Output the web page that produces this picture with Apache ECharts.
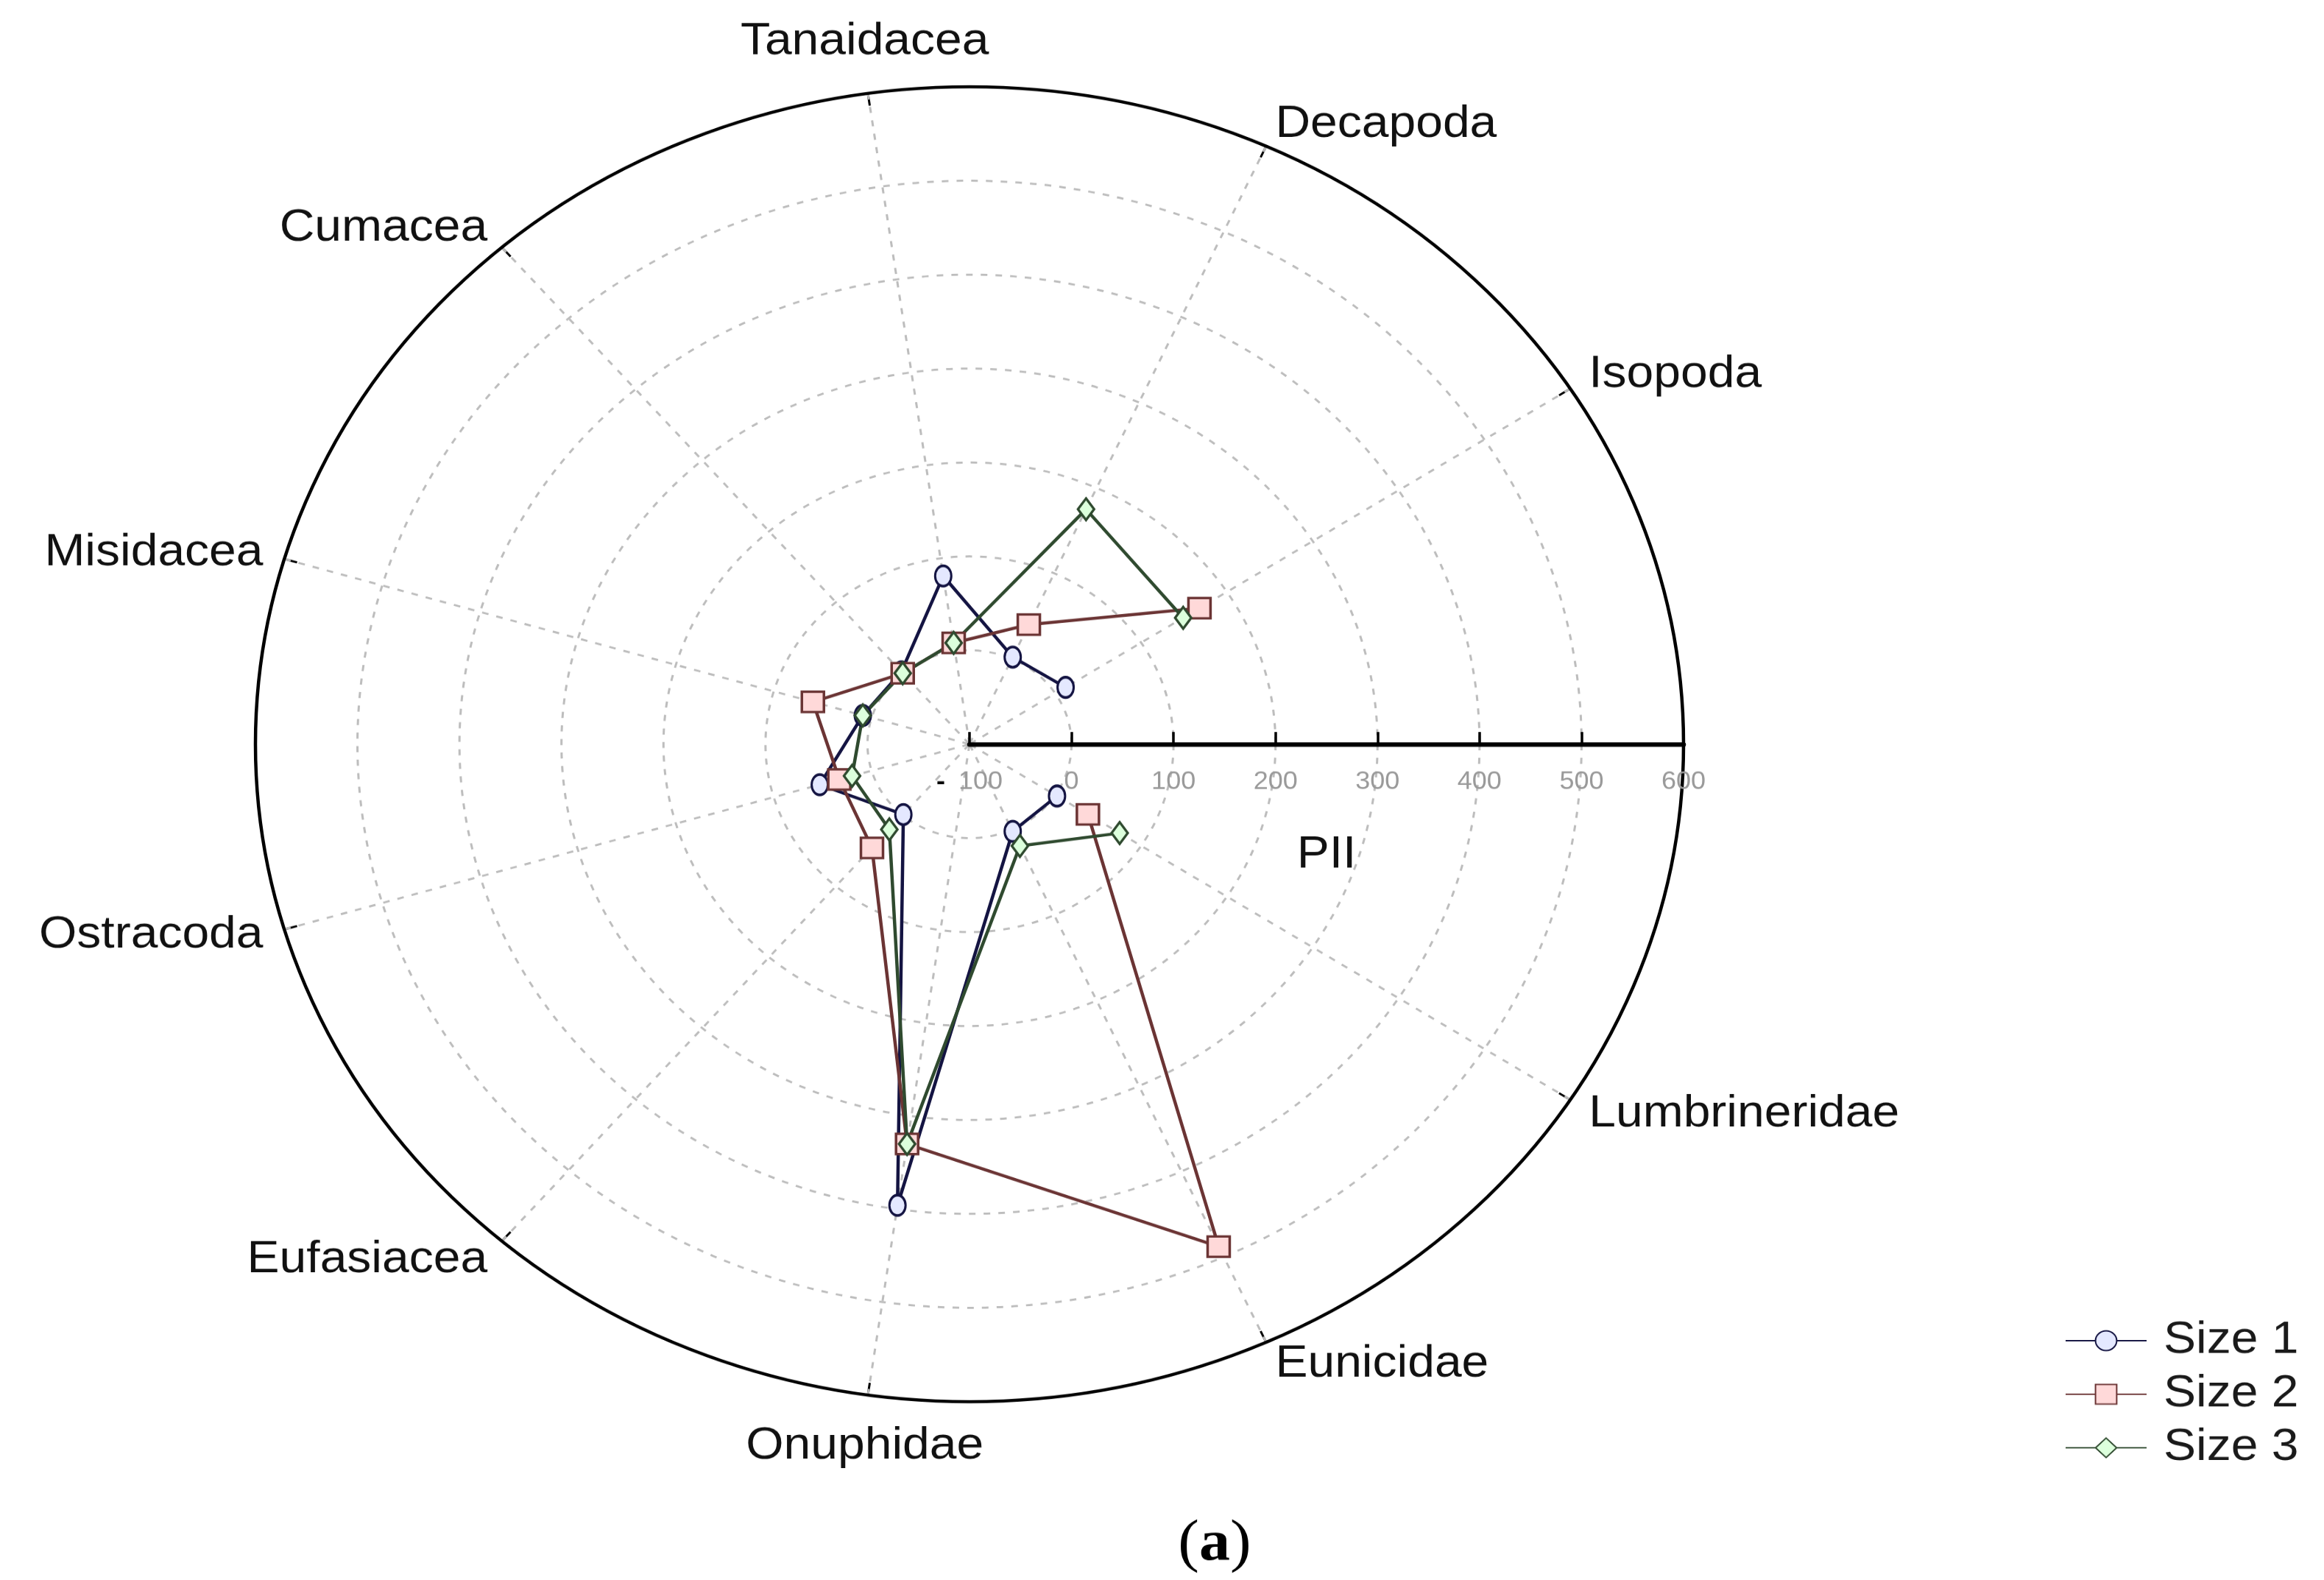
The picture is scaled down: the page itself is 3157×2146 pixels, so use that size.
<!DOCTYPE html>
<html>
<head>
<meta charset="utf-8">
<script src="https://cdn.jsdelivr.net/npm/echarts@6/dist/echarts.min.js"></script>
<style>
  html, body { margin: 0; padding: 0; background: #fff; overflow: hidden; }
  #wrap { width: 3157px; height: 2146px; overflow: hidden; }
  /* the original plot is an ellipse, so the round polar grid is squeezed vertically */
  #chart { width: 3157px; height: 2331px; transform: scaleY(0.9206); transform-origin: 0 0; }
</style>
</head>
<body>
<div id="wrap"><div id="chart"></div></div>
<script>
  // spokes counter-clockwise from the PII axis; the first slot carries no taxon
  const categories = ['', 'Isopoda', 'Decapoda', 'Tanaidacea', 'Cumacea', 'Misidacea',
    'Ostracoda', 'Eufasiacea', 'Onuphidae', 'Eunicidae', 'Lumbrineridae']
  const taxa = categories.slice(1)
  const size1 = [12, 2, 81, 2, 9, 53, -1, 396, 2, 2]
  const size2 = [168, 40, 9, 0, 60, 33, 46, 330, 488, 38]
  const size3 = [149, 175, 9, 0, 9, 20, 20, 330, 19, 75]
  const seriesNames = ['Size 1', 'Size 2', 'Size 3']
  const radialTicks = [-100, 0, 100, 200, 300, 400, 500, 600]

  const FONT = 'Liberation Sans, Arial, sans-serif'
  const GRID = '#bdbdbd'
  // one angular slot per category, the whole circle shared evenly
  const step = 360 / categories.length

  // last ring sits under the black outer line, spoke 0 (and 360) under the PII axis
  const ringColors = radialTicks.map((t, i) => i === radialTicks.length - 1 ? 'rgba(0,0,0,0)' : GRID)
  const spokeColors = categories.concat(['']).map((c, i) => (i === 0 || i === categories.length) ? 'rgba(0,0,0,0)' : GRID)

  function slotOf(name) {
    return categories.indexOf(name) * step
  }

  function makeSeries(name, values, symbol, symbolSize, line, fill) {
    return {
      name: name,
      type: 'line',
      coordinateSystem: 'polar',
      data: values.map((v, i) => [v, slotOf(taxa[i])]),
      symbol: symbol,
      symbolSize: symbolSize,
      lineStyle: { color: line, width: 4.5 },
      itemStyle: { color: fill, borderColor: line, borderWidth: 3.5 },
    }
  }

  const chart = echarts.init(document.getElementById('chart'))
  chart.setOption({
    animation: false,
    backgroundColor: '#fff',
    polar: {
      center: [1317, 1098],
      radius: 970,
    },
    angleAxis: {
      type: 'value',
      min: 0,
      max: 360,
      interval: step,
      startAngle: 0,
      clockwise: false,
      axisLine: { lineStyle: { color: '#000', width: 4.5 } },
      axisTick: { show: true, inside: true, length: 18, lineStyle: { color: '#000', width: 3 } },
      axisLabel: {
        margin: 30,
        color: '#111',
        fontSize: 66,
        fontFamily: FONT,
        formatter: (v) => {
          const name = categories[Math.round(v / step)] || ''
          if (!name) return ''
          return (name === 'Tanaidacea' || name === 'Onuphidae') ? '{c|' + name + '}' : '{d|' + name + '}'
        },
        rich: {
          c: { fontSize: 66, fontFamily: FONT, color: '#111', lineHeight: 92 },
          d: { fontSize: 66, fontFamily: FONT, color: '#111', lineHeight: 10 },
        },
      },
      splitLine: { show: true, lineStyle: { color: spokeColors, width: 3, type: [9, 11] } },
    },
    radiusAxis: {
      type: 'value',
      min: radialTicks[0],
      max: radialTicks[radialTicks.length - 1],
      interval: radialTicks[1] - radialTicks[0],
      name: 'PII',
      nameLocation: 'middle',
      nameGap: 131,
      nameTextStyle: { fontSize: 66, color: '#111', fontFamily: FONT },
      axisLine: { show: true, lineStyle: { color: '#000', width: 6.5 } },
      axisTick: { show: true, length: 18, lineStyle: { color: '#000', width: 3.5 } },
      axisLabel: {
        margin: -74,
        fontSize: 36,
        fontFamily: FONT,
        color: '#9a9a9a',
        formatter: (v) => v < 0 ? '{m|-}{g|' + Math.abs(v) + '}' : '{g|' + v + '}',
        rich: {
          m: { color: '#000', fontSize: 36, fontWeight: 'bold', fontFamily: FONT, padding: [0, 18, 0, 0] },
          g: { color: '#9a9a9a', fontSize: 36, fontFamily: FONT },
        },
      },
      splitLine: { show: true, lineStyle: { color: ringColors, width: 3, type: [9, 11] } },
    },
    legend: {
      data: seriesNames,
      orient: 'vertical',
      left: 2800,
      top: 1940,
      itemWidth: 110,
      itemHeight: 36,
      itemGap: 13,
      textStyle: { fontSize: 66, fontFamily: FONT, color: '#1a1a1a', padding: [0, 0, 0, 18] },
    },
    graphic: [
      {
        type: 'text',
        x: 1650,
        y: 2279,
        style: {
          text: '{n|(}{b|a}{n|)}',
          align: 'center',
          verticalAlign: 'middle',
          fill: '#000',
          rich: {
            n: { fontSize: 86, fontFamily: 'Liberation Serif, Times New Roman, serif', fill: '#000' },
            b: { fontSize: 84, fontFamily: 'Liberation Serif, Times New Roman, serif', fontWeight: 'bold', fill: '#000' },
          },
        },
      },
    ],
    series: [
      makeSeries(seriesNames[0], size1, 'circle', [22, 30], '#141442', '#e4e8ff'),
      makeSeries(seriesNames[1], size2, 'rect', [30, 30], '#6b3434', '#ffd9d9'),
      makeSeries(seriesNames[2], size3, 'diamond', [22, 32], '#2f4a2f', '#dcffdc'),
    ],
  })
</script>
</body>
</html>
